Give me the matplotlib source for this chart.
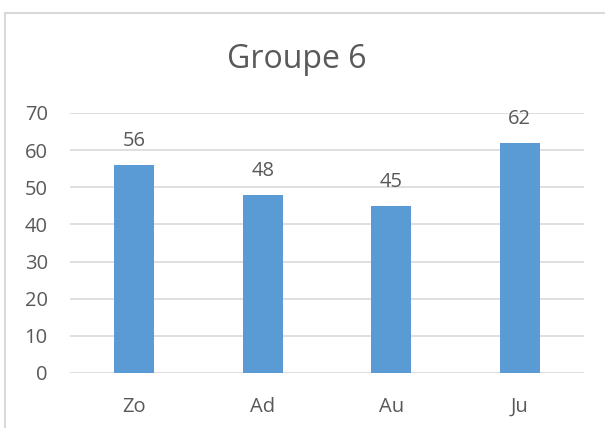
import matplotlib.pyplot as plt
from matplotlib.lines import Line2D

categories = ["Zo", "Ad", "Au", "Ju"]
values = [56, 48, 45, 62]
yticks = [0, 10, 20, 30, 40, 50, 60, 70]

plt.rcParams["font.family"] = ["Open Sans", "DejaVu Sans"]
text_color = "#595959"
grid_color = "#D9D9D9"
bar_color = "#5B9BD5"

fig = plt.figure(figsize=(6.05, 4.28), dpi=100)
ax = fig.add_axes([70 / 605, 55 / 428, 514 / 605, 260 / 428])

x = range(len(categories))
ax.bar(x, values, width=0.31, color=bar_color, zorder=3)
for xi, v in zip(x, values):
    ax.annotate(str(v), (xi, v), xytext=(0, 10), textcoords="offset points",
                ha="center", va="bottom", fontsize=14.5, color=text_color)

ax.set_xlim(-0.5, len(categories) - 0.5)
ax.set_ylim(0, 70)
ax.set_yticks(yticks)
ax.set_xticks(list(x))
ax.set_xticklabels(categories)
ax.grid(axis="y", color=grid_color, linewidth=1.2, zorder=0)
for s in ax.spines.values():
    s.set_visible(False)
ax.tick_params(axis="y", length=0, pad=16, labelsize=14.5, labelcolor=text_color)
ax.tick_params(axis="x", length=0, pad=17, labelsize=14.5, labelcolor=text_color)

fig.text(0.491, 0.862, "Groupe 6", ha="center", va="center", fontsize=23, color=text_color)

# chart area border (top and left edges visible)
fig.add_artist(Line2D([5 / 605, 1.0], [1 - 13 / 428, 1 - 13 / 428], color=grid_color, linewidth=1.5))
fig.add_artist(Line2D([5 / 605, 5 / 605], [0.0, 1 - 13 / 428], color=grid_color, linewidth=1.5))

fig.savefig("out.png", dpi=100)
